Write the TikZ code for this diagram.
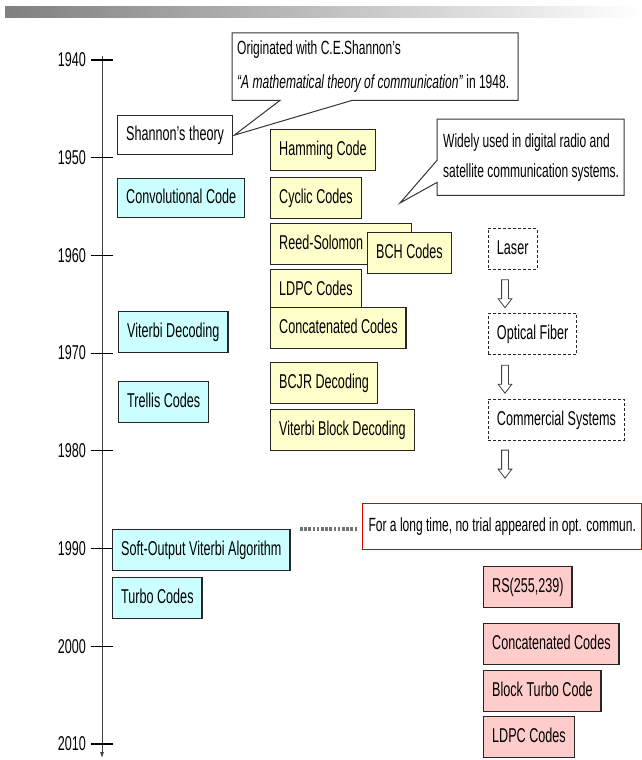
\documentclass[tikz,border=0pt]{standalone}
\usepackage{fontspec}
\setmainfont{Liberation Sans}[FakeStretch=0.63]
\usepackage{tikz}
\usetikzlibrary{arrows.meta}
\usetikzlibrary{shapes.arrows}
\usetikzlibrary{calc}
\definecolor{boxblue}{HTML}{CCFFFF}
\definecolor{boxyellow}{HTML}{FFFFCC}
\definecolor{boxpink}{HTML}{FFCCCC}
\newcommand{\boxfont}{\fontsize{20}{24}\selectfont}
\newcommand{\notefont}{\fontsize{19.1}{24}\selectfont}

\begin{document}
\begin{tikzpicture}[x=1pt,y=-1pt]
\tikzset{>={Latex[width=4pt,length=6pt]}}
\tikzstyle{box} =[draw=black!85, line width=1.4pt, anchor=north west, minimum height=41pt, inner xsep=8.5pt, text height=14.5pt, text depth=4pt, font=\boxfont]
\tikzstyle{bluebox} =[box, fill=boxblue]
\tikzstyle{yellowbox} =[box, fill=boxyellow]
\tikzstyle{pinkbox} =[box, fill=boxpink]
\tikzstyle{dashbox} =[box, line width=0.9pt, dash pattern=on 3pt off 2pt, fill=white]
\tikzstyle{year} =[anchor=east, inner sep=0pt, font=\boxfont]
\tikzstyle{note} =[anchor=north west, align=left, inner xsep=5pt, inner ysep=0pt]
\tikzstyle{callout} =[draw=black!80, line width=1pt, line join=miter]
\tikzstyle{hollow} =[single arrow, draw=black!75, line width=0.8pt, fill=white, rotate=-90, minimum height=28pt, inner sep=3pt, single arrow head extend=3.5pt, single arrow tip angle=75]
\useasboundingbox (0,0) rectangle (641,760);

% bar on top
\shade[left color=black!50, right color=white] (5,7) rectangle (641,18);

% time axis
\coordinate (top) at (102,56);
\coordinate (bottom) at (102,758);
\draw[->, black!75, line width=0.8pt] (top) -- (bottom);
\foreach \yr [count=\i from 0] in {1940,1950,...,2010} {
  \node[year] (y\yr) at (86,60+97.7*\i) {\yr};
  \draw[line width=1.2pt] ([xshift=5pt]y\yr.east) -- ++(22,0);
}

% coding, blue
\node[bluebox, fill=white, minimum height=39pt] (shannon) at (117,115) {Shannon’s theory};
\node[bluebox, minimum height=39pt] (conv) at (117,178) {Convolutional Code};
\node[bluebox] (viterbi) at (118,311) {Viterbi Decoding};
\node[bluebox] (trellis) at (118,381) {Trellis Codes};
\node[bluebox] (sova) at (112,529) {Soft-Output Viterbi Algorithm};
\node[bluebox] (turbo) at (112,577) {Turbo Codes};

% coding, yellow
\node[yellowbox] (hamming) at (270,129) {Hamming Code};
\node[yellowbox] (cyclic) at (270,177) {Cyclic Codes};
\node[yellowbox] (rs) at (270,223) {\makebox[124pt][l]{Reed-Solomon}};
\node[yellowbox] (bch) at (367,232) {BCH Codes};
\node[yellowbox] (ldpc) at (270,269) {LDPC Codes};
\node[yellowbox] (concat) at (270,307) {Concatenated Codes};
\node[yellowbox] (bcjr) at (270,362) {BCJR Decoding};
\node[yellowbox] (vbd) at (270,409) {Viterbi Block Decoding};

% optical side
\node[dashbox] (laser) at (488,228) {Laser};
\node[dashbox] (fiber) at (488,313) {Optical Fiber};
\node[dashbox] (comm) at (488,399) {Commercial Systems};
\node[hollow] (a1) at ($(laser.south west)!0.5!(fiber.north west)+(17,0)$) {};
\node[hollow] (a2) at ($(fiber.south west)!0.5!(comm.north west)+(17,0)$) {};
\node[hollow] (a3) at ($(comm.south west)+(17,21)$) {};

\node[box, draw=red!85!black, line width=1.2pt, fill=white, minimum height=46pt, inner xsep=6pt, font=\notefont] (note3) at (362,503) {\makebox[267pt][l]{For a long time, no trial appeared in opt. commun.}};
\coordinate (dots) at (300,529);
\draw[black!55, line width=3.5pt, dash pattern=on 2.6pt off 1.6pt] (dots) -- ($(dots -| note3.west)+(-4,0)$);

% coding, pink
\node[pinkbox] (rs2) at (483,566) {RS(255,239)};
\node[pinkbox] (concat2) at (483,623) {Concatenated Codes};
\node[pinkbox] (btc) at (483,670) {Block Turbo Code};
\node[pinkbox] (ldpc2) at (483,716) {LDPC Codes};

% callouts
\node[note, minimum height=67pt, font={\fontsize{19.1}{34}\selectfont}] (note1) at (232,33) {Originated with C.E.Shannon’s\\\textit{“A mathematical theory of communication”} in 1948.};
\coordinate (ne1) at ($(note1.north west)+(286,0)$);
\draw[callout] (note1.north west) -- (ne1) -- (ne1 |- note1.south) -- ([xshift=120pt]note1.south west) -- ([xshift=1pt]shannon.east) -- ([xshift=48pt]note1.south west) -- (note1.south west) -- cycle;

\node[note, inner xsep=6pt, minimum height=76pt, font={\fontsize{19.1}{30}\selectfont}] (note2) at (437,119) {Widely used in digital radio and\\satellite communication systems.};
\coordinate (ne2) at ($(note2.north west)+(187,0)$);
\coordinate (tip2) at (400,203);
\draw[callout] (note2.north west) -- (ne2) -- (ne2 |- note2.south) -- (note2.south west) -- ([yshift=13pt]note2.south west) -- (tip2) -- ([yshift=35pt]note2.south west) -- cycle;
\end{tikzpicture}
\end{document}
